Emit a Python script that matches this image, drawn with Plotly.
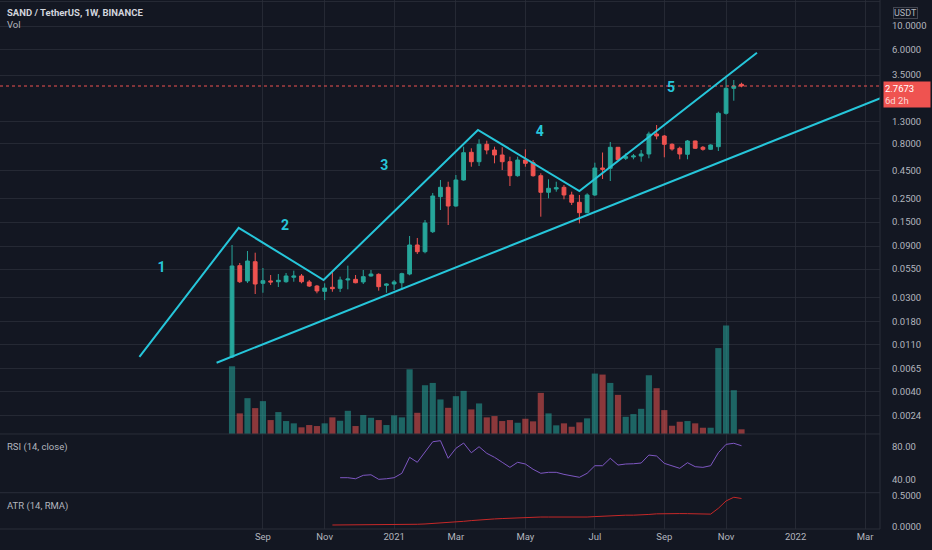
import math
import pandas as pd
import plotly.graph_objects as go
from plotly.subplots import make_subplots

# === Farben (TradingView dark) ===
BG = "#131722"
GRID = "rgba(42,46,57,0.8)"
TEXT = "#b2b5be"
UP = "#26a69a"
DOWN = "#ef5350"
UP_VOL = "rgba(38,166,154,0.55)"
DOWN_VOL = "rgba(239,83,80,0.55)"
DRAW = "#26c6da"

# === Wochenkerzen SAND/USDT (Binance), Wochenbeginn Montag ===
week_start = "2020-08-10"
opens = [0.00836, 0.0591, 0.0426, 0.0643, 0.0405, 0.0426, 0.0419, 0.0419, 0.0461, 0.0474,
         0.0417, 0.0382, 0.0341, 0.0372, 0.0364, 0.0435, 0.0441, 0.0417, 0.0474, 0.0491,
         0.0388, 0.0399, 0.0410, 0.0494, 0.0920, 0.0797, 0.1223, 0.2588, 0.3164, 0.2120,
         0.3700, 0.6693, 0.5472, 0.7944, 0.7031, 0.6319, 0.5472, 0.4057, 0.5676, 0.5357,
         0.4057, 0.2843, 0.3051, 0.3164, 0.2684, 0.2295, 0.1837, 0.2684, 0.4782, 0.4751,
         0.7452, 0.5886, 0.6053, 0.6184, 0.6456, 0.9904, 0.9489, 0.7944, 0.7294, 0.6415,
         0.8527, 0.7452, 0.7138, 0.7547, 1.5427, 2.634, 2.870]
highs = [0.0920, 0.0626, 0.0809, 0.0780, 0.0562, 0.0484, 0.0494, 0.0505, 0.0531, 0.0494,
         0.0435, 0.0391, 0.0405, 0.0519, 0.0467, 0.0591, 0.0484, 0.0539, 0.0539, 0.0502,
         0.0405, 0.0435, 0.0508, 0.1115, 0.1069, 0.1571, 0.2802, 0.3700, 0.3566, 0.4118,
         0.7547, 0.7294, 0.8841, 0.8582, 0.7547, 0.7452, 0.6093, 0.6093, 0.7138, 0.5676,
         0.4270, 0.3756, 0.3566, 0.3324, 0.2880, 0.2684, 0.2783, 0.5357, 0.6665, 0.8346,
         0.7500, 0.6554, 0.6456, 0.7031, 1.0404, 1.2009, 0.9694, 0.8117, 0.7547, 0.8710,
         0.8582, 0.7662, 0.7944, 1.5963, 3.264, 3.148, 2.970]
lows = [0.00818, 0.0408, 0.0408, 0.0322, 0.0331, 0.0391, 0.0374, 0.0410, 0.0419, 0.0405,
        0.0374, 0.0327, 0.0283, 0.0338, 0.0336, 0.0356, 0.0405, 0.0399, 0.0467, 0.0346,
        0.0331, 0.0351, 0.0351, 0.0481, 0.0759, 0.0770, 0.1189, 0.1946, 0.1411, 0.2089,
        0.3645, 0.4917, 0.4991, 0.6415, 0.5289, 0.4583, 0.3253, 0.3971, 0.4917, 0.3971,
        0.1686, 0.2500, 0.2880, 0.2447, 0.2166, 0.1463, 0.1813, 0.2627, 0.3781, 0.3621,
        0.5676, 0.5676, 0.5762, 0.5472, 0.5886, 0.8841, 0.6014, 0.6927, 0.5762, 0.5762,
        0.7185, 0.6927, 0.7031, 0.6883, 1.50, 2.020, 2.692]
closes = [0.0587, 0.0419, 0.0653, 0.0399, 0.0428, 0.0417, 0.0432, 0.0474, 0.0474, 0.0419,
          0.0382, 0.0344, 0.0366, 0.0361, 0.0435, 0.0444, 0.0410, 0.0467, 0.0494, 0.0377,
          0.0399, 0.0417, 0.0498, 0.0920, 0.0797, 0.1473, 0.2627, 0.3164, 0.2120, 0.3700,
          0.6636, 0.5472, 0.7944, 0.7031, 0.6319, 0.5472, 0.4057, 0.5676, 0.5289, 0.4057,
          0.2843, 0.3097, 0.3137, 0.2684, 0.2295, 0.1837, 0.2684, 0.4782, 0.4651, 0.7452,
          0.5713, 0.6093, 0.6184, 0.6456, 0.9904, 0.9489, 0.7944, 0.7185, 0.6456, 0.8527,
          0.7294, 0.7138, 0.7827, 1.5427, 2.634, 2.768, 2.7673]
# Volumen (relativ)
volume = [68, 20.7, 36, 26, 33, 14, 22, 13, 10.7, 6.7,
          9, 8, 10.7, 16.7, 13.3, 23.3, 8, 19, 16.3, 14,
          9, 18.7, 16.7, 65, 21.3, 49, 51.3, 34.7, 26.3, 38,
          43.3, 24.7, 30.7, 16.7, 18, 13, 14, 11.3, 15.3, 12.7,
          41.3, 20.7, 8.7, 10.7, 7.3, 11.7, 15.7, 60.7, 59.7, 51.3,
          39.3, 17.3, 20, 25.3, 59, 46, 24, 8.3, 12.3, 13,
          10.7, 6.3, 6.3, 86.3, 109, 44, 4.7]

# === Indikatoren ===
rsi_start = 14
rsi_values = [42, 42, 40.7, 44.9, 45.6, 40, 40.7, 42, 47.4, 67,
              60.9, 73.9, 86.1, 87.4, 65.8, 78, 84.5, 72.6, 80, 71.9,
              67, 60.9, 54.7, 60.9, 58.8, 52.3, 47.4, 48.6, 48.6, 46.1,
              44.4, 42.5, 47.4, 56.7, 56.7, 65.8, 57.5, 58.8, 59.1, 60,
              69.8, 68.6, 59.6, 56.7, 53.5, 60.4, 55.5, 54.7, 56.7, 72.6,
              82.9, 84.2, 81.2]
atr_start = 13
atr_values = [0.028, 0.028, 0.029, 0.029, 0.029, 0.03, 0.03, 0.03, 0.03, 0.032,
              0.036, 0.04, 0.045, 0.052, 0.058, 0.066, 0.075, 0.088, 0.1, 0.112,
              0.12, 0.127, 0.133, 0.14, 0.145, 0.15, 0.155, 0.158, 0.158, 0.157,
              0.156, 0.155, 0.155, 0.158, 0.165, 0.172, 0.18, 0.186, 0.188, 0.188,
              0.19, 0.2, 0.21, 0.215, 0.215, 0.214, 0.213, 0.21, 0.207, 0.205,
              0.3, 0.42, 0.48, 0.46]

# === Zeichnungen (Elliott-Wellen + Trendlinie) ===
wave_dates = ["2020-05-18", "2020-08-16", "2020-11-01", "2021-03-21", "2021-06-21", "2021-11-29"]
wave_prices = [0.0084, 0.133, 0.0435, 1.08, 0.292, 5.65]
support_dates = ["2020-07-27", "2022-05-02"]
support_prices = [0.0074, 3.16]
label_dates = ["2020-06-07", "2020-09-27", "2020-12-26", "2021-05-16", "2021-09-12"]
label_prices = [0.0558, 0.138, 0.499, 1.018, 2.634]
label_texts = ["1", "2", "3", "4", "5"]

# === Achsen ===
x_range = ["2020-01-12 14:00", "2022-03-20 14:00"]
month_ticks = ["2020-09-07", "2020-11-02", "2021-01-04", "2021-03-01", "2021-05-03",
               "2021-07-05", "2021-09-06", "2021-11-01", "2022-01-03", "2022-03-07"]
month_labels = ["Sep", "Nov", "2021", "Mar", "May", "Jul", "Sep", "Nov", "2022", "Mar"]
price_ticks = [17, 10, 6, 3.5, 1.3, 0.8, 0.45, 0.25, 0.15, 0.09, 0.055, 0.03, 0.018,
               0.011, 0.0065, 0.004, 0.0024]

dates = pd.date_range(week_start, periods=len(closes), freq="7D")
vol_colors = [UP_VOL if c >= o else DOWN_VOL for o, c in zip(opens, closes)]
last_close = closes[-1]

fig = make_subplots(
    rows=3, cols=1,
    shared_xaxes=True,
    vertical_spacing=0,
    row_heights=[0.8204, 0.1110, 0.0686],
    specs=[[{"secondary_y": True}], [{}], [{}]]
)

# Volumen (unten im Hauptfenster)
fig.add_trace(go.Bar(x=dates, y=volume, marker_color=vol_colors, marker_line_width=0,
                     hoverinfo="skip"), row=1, col=1, secondary_y=False)

# Kerzen
fig.add_trace(go.Candlestick(
    x=dates, open=opens, high=highs, low=lows, close=closes,
    increasing=dict(line=dict(color=UP, width=1), fillcolor=UP),
    decreasing=dict(line=dict(color=DOWN, width=1), fillcolor=DOWN),
    whiskerwidth=0
), row=1, col=1, secondary_y=True)

# Letzter Kurs (gepunktet)
fig.add_trace(go.Scatter(x=x_range, y=[last_close, last_close], mode="lines",
                         line=dict(color=DOWN, width=1, dash="dot"), hoverinfo="skip"),
              row=1, col=1, secondary_y=True)

# Wellen + Trendlinie
fig.add_trace(go.Scatter(x=wave_dates, y=wave_prices, mode="lines",
                         line=dict(color=DRAW, width=2)), row=1, col=1, secondary_y=True)
fig.add_trace(go.Scatter(x=support_dates, y=support_prices, mode="lines",
                         line=dict(color=DRAW, width=2)), row=1, col=1, secondary_y=True)
fig.add_trace(go.Scatter(x=label_dates, y=label_prices, mode="text", text=label_texts,
                         textfont=dict(color=DRAW, size=14, family="Roboto", weight="bold")),
              row=1, col=1, secondary_y=True)

# RSI
fig.add_hrect(y0=30, y1=70, fillcolor="rgba(126,87,194,0.12)", line_width=0,
              layer="below", row=2, col=1)
for lvl in (70, 50, 30):
    fig.add_hline(y=lvl, line=dict(color="rgba(120,123,134,0.9)", width=1, dash="dash"),
                  row=2, col=1)
fig.add_trace(go.Scatter(x=dates[rsi_start:], y=rsi_values, mode="lines",
                         line=dict(color="#7e57c2", width=1)), row=2, col=1)

# ATR
fig.add_trace(go.Scatter(x=dates[atr_start:], y=atr_values, mode="lines",
                         line=dict(color="#c62828", width=1)), row=3, col=1)

# === Achsen formatieren ===
TICKFONT = dict(size=9.5, color=TEXT)
fig.update_xaxes(type="date", range=x_range, tickvals=month_ticks, ticktext=month_labels,
                 domain=[0, 1], showgrid=True, gridcolor=GRID, gridwidth=1, zeroline=False,
                 showline=False, ticks="", rangeslider_visible=False, automargin=False,
                 tickfont=TICKFONT)
fig.update_layout(
    yaxis=dict(range=[0, max(volume) * 4], visible=False, showgrid=False),
    yaxis2=dict(type="log", range=[-2.7936, 1.2418], side="right",
                tickvals=price_ticks, ticktext=["%.4f" % v for v in price_ticks],
                showgrid=True, gridcolor=GRID, zeroline=False, ticks="", automargin=False,
                ticklabelstandoff=11, tickfont=TICKFONT),
    yaxis3=dict(range=[23.6, 95.6], side="right", tickvals=[40, 80],
                ticktext=["40.00", "80.00"], showgrid=False, zeroline=False, ticks="",
                automargin=False, ticklabelstandoff=11, tickfont=TICKFONT),
    yaxis4=dict(range=[-0.037, 0.554], side="right", tickvals=[0, 0.5],
                ticktext=["0.0000", "0.5000"], showgrid=False, zeroline=False, ticks="",
                automargin=False, ticklabelstandoff=11, tickfont=TICKFONT),
)

# Trennlinien der Fenster
for yy in (0.1796, 0.0686, 0.0):
    fig.add_shape(type="line", xref="paper", yref="paper", x0=0, x1=1, y0=yy, y1=yy,
                  line=dict(color="#2a2e39", width=1))
fig.add_shape(type="line", xref="paper", yref="paper", x0=1, x1=1, y0=0, y1=1,
              line=dict(color="#2a2e39", width=1))

# === Beschriftungen ===
def pane_label(text, y, size=9.5, color=TEXT, bold=False):
    fig.add_annotation(text=f"<b>{text}</b>" if bold else text, xref="paper", yref="paper",
                       x=0, y=y, xanchor="left", yanchor="middle", xshift=5,
                       showarrow=False, font=dict(size=size, color=color))

pane_label("SAND / TetherUS, 1W, BINANCE", 0.9773, size=9.5, color="#d1d4dc", bold=True)
pane_label("Vol", 0.9533)
pane_label("RSI (14, close)", 0.1556)
pane_label("ATR (14, RMA)", 0.0435)

fig.add_annotation(text="USDT", xref="paper", yref="paper", x=1, y=0.976, xanchor="left",
                   yanchor="middle", xshift=13, showarrow=False, font=dict(size=9, color=TEXT),
                   bgcolor=BG, bordercolor="#434651", borderwidth=1, borderpad=0)
fig.add_annotation(
    text=f"{last_close:.4f}<br><span style='color:#fbd7d6'>6d 2h</span>",
    xref="paper", yref="y2", x=1, y=math.log10(last_close), xanchor="left", yanchor="top",
    xshift=3, yshift=5, showarrow=False, align="left", width=44,
    font=dict(size=9.5, color="#ffffff"), bgcolor=DOWN, borderpad=1
)

fig.update_layout(
    width=932, height=550,
    margin=dict(l=0, r=52, t=0, b=21, autoexpand=False),
    paper_bgcolor=BG, plot_bgcolor=BG,
    showlegend=False,
    bargap=0.2, boxgap=0.3,
    font=dict(family="Roboto", size=9.5, color=TEXT),
)

fig.write_html("out.html", config={"displayModeBar": False},
               post_script="document.body.style.margin='0';")
